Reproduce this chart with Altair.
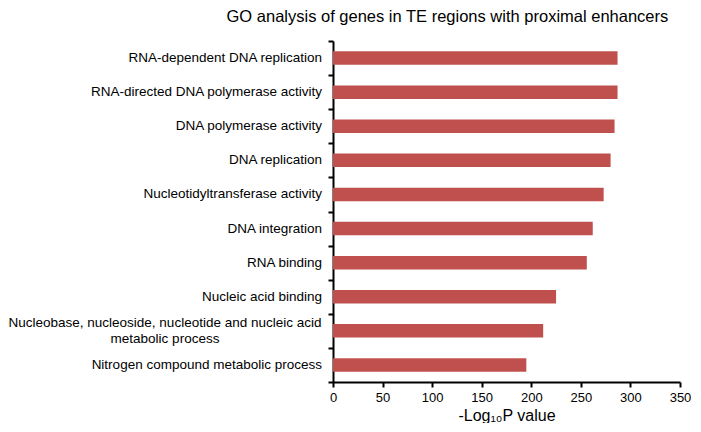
import altair as alt
import pandas as pd

terms = [
    "RNA-dependent DNA replication",
    "RNA-directed DNA polymerase activity",
    "DNA polymerase activity",
    "DNA replication",
    "Nucleotidyltransferase activity",
    "DNA integration",
    "RNA binding",
    "Nucleic acid binding",
    "Nucleobase, nucleoside, nucleotide and nucleic acid|metabolic process",
    "Nitrogen compound metabolic process",
]
values = [287, 287, 284, 280, 273, 262, 256, 225, 212, 195]

df = pd.DataFrame({"term": terms, "value": values})
df["multi"] = df["term"].str.contains("|", regex=False)

FONT = "Liberation Sans"
LABEL_SIZE = 13.5

y_enc = alt.Y(
    "term:N",
    sort=terms,
    scale=alt.Scale(paddingInner=0, paddingOuter=0),
    axis=alt.Axis(
        title=None,
        labels=False,
        tickBand="extent",
        tickColor="black",
        tickWidth=2,
        tickSize=5,
        domainColor="black",
        domainWidth=2,
    ),
)

bars = alt.Chart(df).mark_bar(color="#c0504d", size=13.5).encode(
    x=alt.X(
        "value:Q",
        scale=alt.Scale(domain=[0, 350], nice=False),
        axis=alt.Axis(
            values=[0, 50, 100, 150, 200, 250, 300, 350],
            title="-Log\u2081\u2080P value",
            titleFontWeight="normal",
            titleFontSize=16,
            titleFont=FONT,
            titleColor="black",
            titlePadding=3,
            labelFontSize=13,
            labelFont=FONT,
            labelColor="black",
            labelPadding=4,
            labelFlush=False,
            grid=False,
            domainColor="black",
            domainWidth=2,
            tickColor="black",
            tickWidth=2,
            tickSize=5,
        ),
    ),
    y=y_enc,
)

single_labels = alt.Chart(df).transform_filter("!datum.multi").mark_text(
    align="right", baseline="middle", font=FONT, fontSize=LABEL_SIZE, color="black"
).encode(y=alt.Y("term:N", sort=terms), x=alt.value(-11), text="term:N")

multi_labels = alt.Chart(df).transform_filter("datum.multi").mark_text(
    align="center", baseline="middle", font=FONT, fontSize=LABEL_SIZE, color="black",
    lineBreak="|", lineHeight=16, dy=-8,
).encode(y=alt.Y("term:N", sort=terms), x=alt.value(-11 - 157), text="term:N")

chart = alt.layer(bars, single_labels, multi_labels).properties(
    width=347,
    height=341,
    title=alt.TitleParams(
        "GO analysis of genes in TE regions with proximal enhancers",
        font=FONT,
        fontSize=16.5,
        fontWeight="normal",
        color="black",
        anchor="start",
        frame="bounds",
        dx=218,
        offset=15,
    ),
    padding={"left": 0, "top": 0, "right": 0, "bottom": 0},
).configure(background="white").configure_view(stroke=None)

chart.save("out.html", embed_options={"renderer": "svg", "actions": False})
